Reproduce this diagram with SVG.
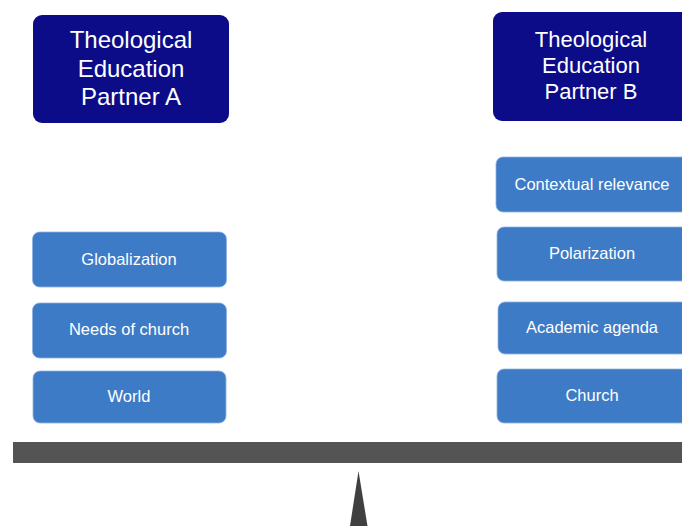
<svg xmlns="http://www.w3.org/2000/svg" width="682" height="526" viewBox="0 0 682 526">
  <style>
    .title { fill: #0c0c88; }
    .item { fill: #3d7bc6; stroke: #8fb2e0; stroke-width: 0.8; }
    text { font-family: "Liberation Sans", Arial, sans-serif; fill: #ffffff; text-anchor: middle; }
    .tA { font-size: 24px; }
    .tB { font-size: 22px; }
    .lbl { font-size: 16.5px; }
  </style>
  <rect width="682" height="526" fill="#ffffff"/>

  <!-- Partner A -->
  <g id="partner-a">
    <rect class="title" x="33" y="15" width="196" height="108" rx="9"/>
    <text class="tA" x="131" y="48">Theological</text>
    <text class="tA" x="131" y="76.5">Education</text>
    <text class="tA" x="131" y="105">Partner A</text>
  </g>

  <!-- Partner B -->
  <g id="partner-b">
    <rect class="title" x="493" y="12" width="200" height="109" rx="9"/>
    <text class="tB" x="591" y="47">Theological</text>
    <text class="tB" x="591" y="73">Education</text>
    <text class="tB" x="591" y="99">Partner B</text>
  </g>

  <!-- Left column -->
  <g id="globalization">
    <rect class="item" x="32.5" y="232" width="194" height="55" rx="7"/>
    <text class="lbl" x="129" y="265">Globalization</text>
  </g>
  <g id="needs-of-church">
    <rect class="item" x="32.5" y="303" width="194" height="55" rx="7"/>
    <text class="lbl" x="129" y="335">Needs of church</text>
  </g>
  <g id="world">
    <rect class="item" x="33" y="371" width="193" height="52" rx="7"/>
    <text class="lbl" x="129" y="402">World</text>
  </g>

  <!-- Right column -->
  <g id="contextual-relevance">
    <rect class="item" x="496" y="157" width="200" height="55" rx="7"/>
    <text class="lbl" x="592" y="190">Contextual relevance</text>
  </g>
  <g id="polarization">
    <rect class="item" x="497" y="227" width="200" height="54" rx="7"/>
    <text class="lbl" x="592" y="259">Polarization</text>
  </g>
  <g id="academic-agenda">
    <rect class="item" x="498" y="302" width="200" height="52" rx="7"/>
    <text class="lbl" x="592" y="333">Academic agenda</text>
  </g>
  <g id="church">
    <rect class="item" x="497" y="369" width="200" height="54" rx="7"/>
    <text class="lbl" x="592" y="401">Church</text>
  </g>

  <!-- Balance beam and fulcrum -->
  <g id="balance">
    <rect x="13" y="442" width="669" height="21" fill="#545454"/>
    <polygon points="358.5,471 367.5,526 350,526" fill="#404040"/>
  </g>
</svg>
